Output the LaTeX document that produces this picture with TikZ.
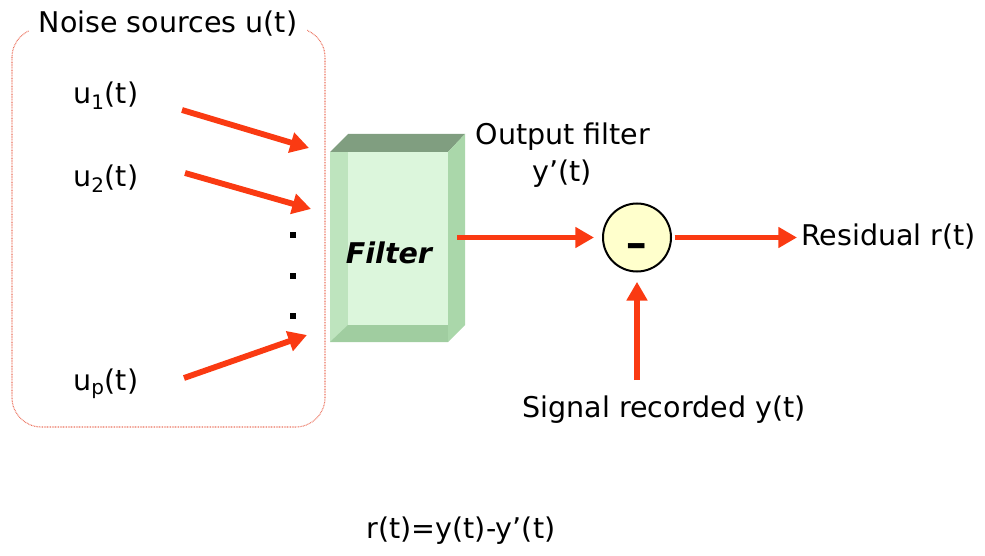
\documentclass[tikz,border=0pt]{standalone}
\usepackage{fontspec}
\setmainfont{DejaVu Sans}
\usetikzlibrary{arrows.meta}
\definecolor{arrowred}{RGB}{250,58,18}
\definecolor{dotred}{RGB}{235,115,95}
\definecolor{sumfill}{RGB}{255,255,204}
\definecolor{boxtop}{RGB}{128,158,128}
\definecolor{boxside}{RGB}{170,215,170}
\definecolor{boxleft}{RGB}{190,228,190}
\definecolor{boxbottom}{RGB}{160,205,160}
\definecolor{boxfront}{RGB}{220,246,220}
\tikzset{
  flow/.style={line width=4.4pt,color=arrowred,-{Triangle[length=14pt,width=15pt]}},
  lbl/.style={inner sep=0pt,font=\fontsize{21.4}{26}\selectfont},
}

\begin{document}
\begin{tikzpicture}[x=0.75pt,y=-0.75pt]
\useasboundingbox (0,0) rectangle (985,556);

\coordinate (A) at (330,152);
\coordinate (B) at (448,152);
\coordinate (C) at (448,342);
\coordinate (D) at (330,342);
\coordinate (E) at (348,134);
\coordinate (F) at (465,134);
\coordinate (G) at (465,325);
\coordinate (H) at (348,325);
\coordinate (I) at (348,152);
\coordinate (J) at (448,325);

\draw[dotred,line width=0.8pt,dash pattern=on 0.6pt off 0.6pt,rounded corners=22pt] (12,28) rectangle (325,427);
\node[lbl,fill=white,inner xsep=7pt,inner ysep=2pt] (noise) at (168,24) {Noise sources u(t)};

\fill[boxleft] (A) -- (B) -- (C) -- (D) -- cycle;
\fill[boxbottom] (D) -- (H) -- (J) -- (C) -- cycle;
\fill[boxfront] (I) rectangle (J);
\fill[boxtop] (A) -- (E) -- (F) -- (B) -- cycle;
\fill[boxside] (B) -- (F) -- (G) -- (C) -- cycle;
\node[lbl,anchor=base,font=\fontsize{21.4}{26}\selectfont\bfseries\itshape] (filter) at (389,263) {Filter};

\node[lbl,anchor=base west] (u1) at (73,104) {u\textsubscript{1}(t)};
\node[lbl,anchor=base west] (u2) at (73,187) {u\textsubscript{2}(t)};
\node[lbl,anchor=base west] (up) at (73,390) {u\textsubscript{p}(t)};
\foreach \y in {235,276,316}
  \fill (290,\y) ++(0,-3) rectangle ++(6,6);

\coordinate (u1s) at (182,110);
\coordinate (u1e) at (309,148);
\coordinate (u2s) at (185,173);
\coordinate (u2e) at (311,209);
\coordinate (ups) at (184,378);
\coordinate (upe) at (307,335);
\draw[flow] (u1s) -- (u1e);
\draw[flow] (u2s) -- (u2e);
\draw[flow] (ups) -- (upe);

\node[circle,draw,line width=1.5pt,fill=sumfill,minimum size=51pt,inner sep=0pt,
  text height=29pt,text depth=0pt,font=\fontsize{30}{30}\selectfont\bfseries] (sub) at (637,237.5) {\scalebox{1.35}[0.9]{-}};
\coordinate (fout) at (457,237.5);
\coordinate (rout) at (797,237.5);
\coordinate (sigin) at (637,380);
\draw[flow,shorten >=6pt] (fout) -- (sub);
\draw[flow,shorten <=2pt] (sub) -- (rout);
\draw[flow,shorten >=7pt] (sigin) -- (sub);

\node[lbl,anchor=base] (outf) at (563,145) {Output filter};
\node[lbl,anchor=base] (yprime) at (562,182) {y’(t)};
\node[lbl,anchor=base west] (res) at (801,245) {Residual r(t)};
\node[lbl,anchor=base] (sig) at (664,417) {Signal recorded y(t)};
\node[lbl,anchor=base] (eq) at (461,538) {r(t)=y(t)-y’(t)};
\end{tikzpicture}
\end{document}
